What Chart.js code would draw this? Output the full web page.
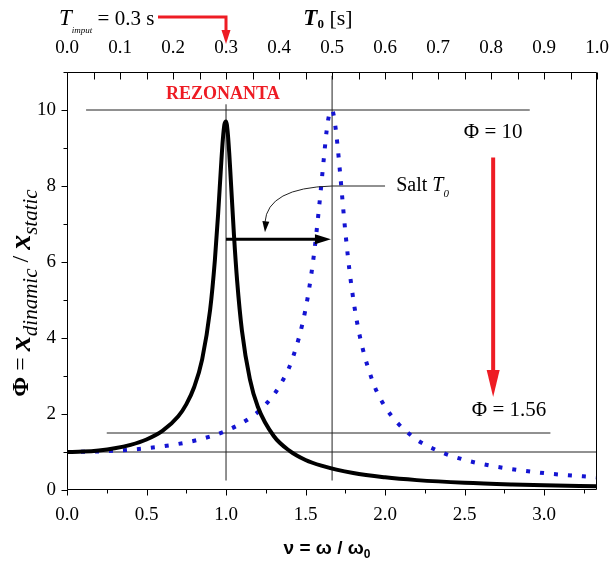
<!DOCTYPE html>
<html><head><meta charset="utf-8">
<script src="https://cdn.jsdelivr.net/npm/chart.js@4.4.1/dist/chart.umd.min.js"></script>
<style>html,body{margin:0;padding:0;background:#fff}</style>
</head><body>
<canvas id="c" width="610" height="566"></canvas>
<script>
// ---- data ----
const nuSystem  = [0,0.1,0.2,0.3,0.4,0.5,0.6,0.7,0.75,0.8,0.85,0.9,0.93,0.95,0.97,0.98,0.99,1.0,1.01,1.02,1.03,1.05,1.07,1.1,1.15,1.2,1.3,1.4,1.5,1.6,1.8,2.0,2.2,2.5,2.8,3.0,3.333];
const phiSystem = [1,1.01,1.041,1.098,1.189,1.33,1.556,1.943,2.253,2.71,3.44,4.74,6.05,7.24,8.61,9.22,9.62,9.7,9.44,8.88,8.17,6.71,5.5,4.2,2.92,2.19,1.42,1.03,0.79,0.64,0.445,0.333,0.26,0.19,0.146,0.125,0.099];
const nuShifted  = [0,0.167,0.333,0.5,0.667,0.833,1.0,1.167,1.25,1.333,1.417,1.5,1.55,1.583,1.617,1.633,1.65,1.667,1.683,1.7,1.717,1.75,1.783,1.833,1.917,2.0,2.167,2.333,2.5,2.667,3.0,3.333];
const phiShifted = [1,1.01,1.041,1.098,1.189,1.33,1.556,1.943,2.253,2.712,3.446,4.757,6.097,7.346,8.804,9.461,9.903,10.0,9.711,9.115,8.357,6.815,5.552,4.218,2.921,2.193,1.424,1.031,0.794,0.638,0.445,0.333];
const xTicks = [0,0.5,1.0,1.5,2.0,2.5,3.0];
const xTickMarks = [0,0.25,0.5,0.75,1.0,1.25,1.5,1.75,2.0,2.25,2.5,2.75,3.0,3.25];
const topTicks = [0,0.1,0.2,0.3,0.4,0.5,0.6,0.7,0.8,0.9,1.0];
const topTickMarks = [0,0.05,0.1,0.15,0.2,0.25,0.3,0.35,0.4,0.45,0.5,0.55,0.6,0.65,0.7,0.75,0.8,0.85,0.9,0.95,1.0];
const yTicks = [0,2,4,6,8,10];
const yTickMarks = [0,1,2,3,4,5,6,7,8,9,10,11];
const xMax = 3.333, yMax = 11, tInput = 0.3;
// reference lines
const line10  = [[0.12,10],[2.91,10]];
const line156 = [[0.25,1.5],[3.04,1.5]];
const line1   = [[0,1],[3.333,1]];
const vLine1  = [[1.0,0.25],[1.0,10.15]];
const vLine2  = [[1.667,0.25],[1.667,10.9]];
// annotations
const shiftArrow = [[1.0,6.6],[1.66,6.6]];
const redArrow = [[2.68,8.75],[2.68,2.45]];

const P = (arr) => arr.map(p => ({x:p[0], y:p[1]}));
const pts = (xs, ys) => xs.map((x,i)=>({x, y:ys[i]}));
const refStyle = {borderColor:'#222', borderWidth:1, pointRadius:0, order:5, fill:false};

const SERIF = '"Liberation Serif", "Times New Roman", serif';
Chart.defaults.font.family = SERIF;
Chart.defaults.color = '#000';

function rich(ctx, x, y, parts, align){
  let w = 0;
  parts.forEach(p => { ctx.font = p.f; p.w = ctx.measureText(p.t).width; w += p.w; });
  let cx = align === 'left' ? x : x - w/2;
  ctx.textBaseline = 'middle'; ctx.textAlign = 'left';
  parts.forEach(p => { ctx.font = p.f; ctx.fillStyle = p.c || '#000'; ctx.fillText(p.t, cx, y + (p.dy||0)); cx += p.w; });
}
function head(ctx, tx, ty, ang, len, hw, color){
  ctx.save(); ctx.translate(tx, ty); ctx.rotate(ang);
  ctx.beginPath(); ctx.moveTo(0,0); ctx.lineTo(-len, -hw); ctx.lineTo(-len, hw); ctx.closePath();
  ctx.fillStyle = color; ctx.fill(); ctx.restore();
}

const deco = {
  id:'deco',
  afterDraw(chart){
    const {ctx, chartArea:a, scales} = chart;
    const X = v => scales.x.getPixelForValue(v), Y = v => scales.y.getPixelForValue(v), T = v => scales.x2.getPixelForValue(v);
    ctx.save();
    // frame
    ctx.strokeStyle = '#000'; ctx.lineWidth = 1;
    const L = Math.round(a.left)+0.5, R = Math.round(a.right)-0.5, TP = Math.round(a.top)+0.5, B = Math.round(a.bottom)-0.5;
    ctx.beginPath(); ctx.moveTo(L,TP); ctx.lineTo(R,TP); ctx.lineTo(R,B); ctx.lineTo(L,B); ctx.closePath(); ctx.stroke();
    // tick marks
    ctx.beginPath();
    xTickMarks.forEach((v,i) => { const px = Math.round(X(v))+0.5; const len = (i%2===0)?6:4; ctx.moveTo(px,B); ctx.lineTo(px,B+len); });
    yTickMarks.forEach((v,i) => { const py = Math.round(Y(v))+0.5; const len = (i%2===0)?6:4; ctx.moveTo(L,py); ctx.lineTo(L-len,py); });
    topTickMarks.forEach((v,i) => { const px = Math.round(T(v))+0.5; ctx.moveTo(px,TP); ctx.lineTo(px,TP+7); });
    ctx.stroke();

    // y-axis title
    ctx.save(); ctx.translate(22, 293); ctx.rotate(-Math.PI/2);
    rich(ctx, 0, 0, [
      {t:'Φ', f:'bold 24px '+SERIF},
      {t:' = ', f:'24px '+SERIF},
      {t:'x', f:'bold italic 30px '+SERIF},
      {t:'dinamic', f:'italic 21px '+SERIF, dy:9},
      {t:' / ', f:'24px '+SERIF},
      {t:'x', f:'bold italic 30px '+SERIF},
      {t:'static', f:'italic 21px '+SERIF, dy:9}
    ], 'center');
    ctx.restore();

    // bottom title
    const SANS = '"Liberation Sans", Arial, sans-serif';
    rich(ctx, (a.left+a.right)/2 - 5, 549, [
      {t:'ν = ω / ω', f:'bold 19px '+SANS},
      {t:'0', f:'bold 12px '+SANS, dy:6}
    ], 'center');

    // top title
    rich(ctx, T(0.5) - 4, 19, [
      {t:'T', f:'bold italic 23px '+SERIF},
      {t:'0', f:'bold 13px '+SERIF, dy:6},
      {t:' [s]', f:'22px '+SERIF}
    ], 'center');

    // T input label
    rich(ctx, 59, 19, [
      {t:'T', f:'italic 23px '+SERIF},
      {t:'imput', f:'italic 9px '+SERIF, dy:12},
      {t:' = 0.3 s', f:'21px '+SERIF}
    ], 'left');
    const red = '#ee1c24';
    const tx = T(tInput);
    ctx.strokeStyle = red; ctx.lineWidth = 3;
    ctx.beginPath(); ctx.moveTo(158, 17); ctx.lineTo(tx, 17); ctx.lineTo(tx, 32); ctx.stroke();
    head(ctx, tx, 44, Math.PI/2, 14, 4.5, red);

    // REZONANTA
    rich(ctx, X(0.98), Y(10.4), [{t:'REZONANTA', f:'bold 18px '+SERIF, c:red}], 'center');

    // Phi labels
    rich(ctx, X(2.68), Y(9.4), [{t:'Φ = 10', f:'21px '+SERIF}], 'center');
    rich(ctx, X(2.78), Y(2.1), [{t:'Φ = 1.56', f:'21px '+SERIF}], 'center');

    // red arrow
    ctx.strokeStyle = red; ctx.lineWidth = 4;
    const rx = X(redArrow[0][0]), ry0 = Y(redArrow[0][1]), ry1 = Y(redArrow[1][1]);
    ctx.beginPath(); ctx.moveTo(rx, ry0); ctx.lineTo(rx, ry1-24); ctx.stroke();
    head(ctx, rx, ry1, Math.PI/2, 27, 6.5, red);

    // black shift arrow
    ctx.strokeStyle = '#000'; ctx.lineWidth = 3;
    const ax0 = X(shiftArrow[0][0]), ax1 = X(shiftArrow[1][0]), ay = Y(shiftArrow[0][1]);
    ctx.beginPath(); ctx.moveTo(ax0, ay); ctx.lineTo(ax1-10, ay); ctx.stroke();
    head(ctx, ax1, ay, 0, 16, 5, '#000');

    // Salt T0 label with curved leader
    rich(ctx, X(2.07), Y(8.0), [
      {t:'Salt ', f:'20px '+SERIF},
      {t:'T', f:'italic 20px '+SERIF},
      {t:'0', f:'italic 11px '+SERIF, dy:8}
    ], 'left');
    ctx.strokeStyle = '#222'; ctx.lineWidth = 1;
    const ey = Y(6.78), ex = X(1.245);
    ctx.beginPath(); ctx.moveTo(X(2.0), Y(8.0)); ctx.lineTo(X(1.667), Y(8.0));
    ctx.quadraticCurveTo(X(1.26), Y(7.95), ex, ey - 10); ctx.stroke();
    head(ctx, ex, ey, Math.PI/2 + 0.08, 11, 3.5, '#000');
    ctx.restore();
  }
};

new Chart(document.getElementById('c'), {
  type:'line',
  data:{datasets:[
    {data:pts(nuSystem, phiSystem), borderColor:'#000', borderWidth:4, pointRadius:0, cubicInterpolationMode:'monotone', order:1},
    {data:pts(nuShifted, phiShifted), borderColor:'#1414d2', borderWidth:4, borderDash:[4,10], pointRadius:0, cubicInterpolationMode:'monotone', order:2},
    Object.assign({data:P(line10)}, refStyle),
    Object.assign({data:P(line156)}, refStyle),
    Object.assign({data:P(line1)}, refStyle),
    Object.assign({data:P(vLine1)}, refStyle),
    Object.assign({data:P(vLine2)}, refStyle)
  ]},
  options:{
    responsive:false, animation:false, devicePixelRatio:1,
    layout:{padding:{left:0,right:0,top:0,bottom:0}},
    plugins:{legend:{display:false}, tooltip:{enabled:false}},
    scales:{
      x:{type:'linear', position:'bottom', min:0, max:xMax,
         afterFit:s=>{s.height=76; s.paddingRight=13;},
         afterBuildTicks:s=>{s.ticks = xTicks.map(v=>({value:v}));},
         grid:{display:false, drawTicks:false}, border:{display:false},
         ticks:{padding:14, font:{size:19}, color:'#000', maxRotation:0, autoSkip:false, callback:v=>Number(v).toFixed(1)}},
      x2:{type:'linear', position:'top', min:0, max:1,
         afterFit:s=>{s.height=72; s.paddingRight=13;},
         afterBuildTicks:s=>{s.ticks = topTicks.map(v=>({value:v}));},
         grid:{display:false, drawTicks:false}, border:{display:false},
         ticks:{padding:13, font:{size:19}, color:'#000', maxRotation:0, autoSkip:false, callback:v=>Number(v).toFixed(1)}},
      y:{type:'linear', position:'left', min:0, max:yMax,
         afterFit:s=>{s.width=67;},
         afterBuildTicks:s=>{s.ticks = yTicks.map(v=>({value:v}));},
         grid:{display:false, drawTicks:false}, border:{display:false},
         ticks:{padding:11, font:{size:19}, color:'#000', callback:v=>String(v)}}
    }
  },
  plugins:[deco]
});
</script>
</body></html>
